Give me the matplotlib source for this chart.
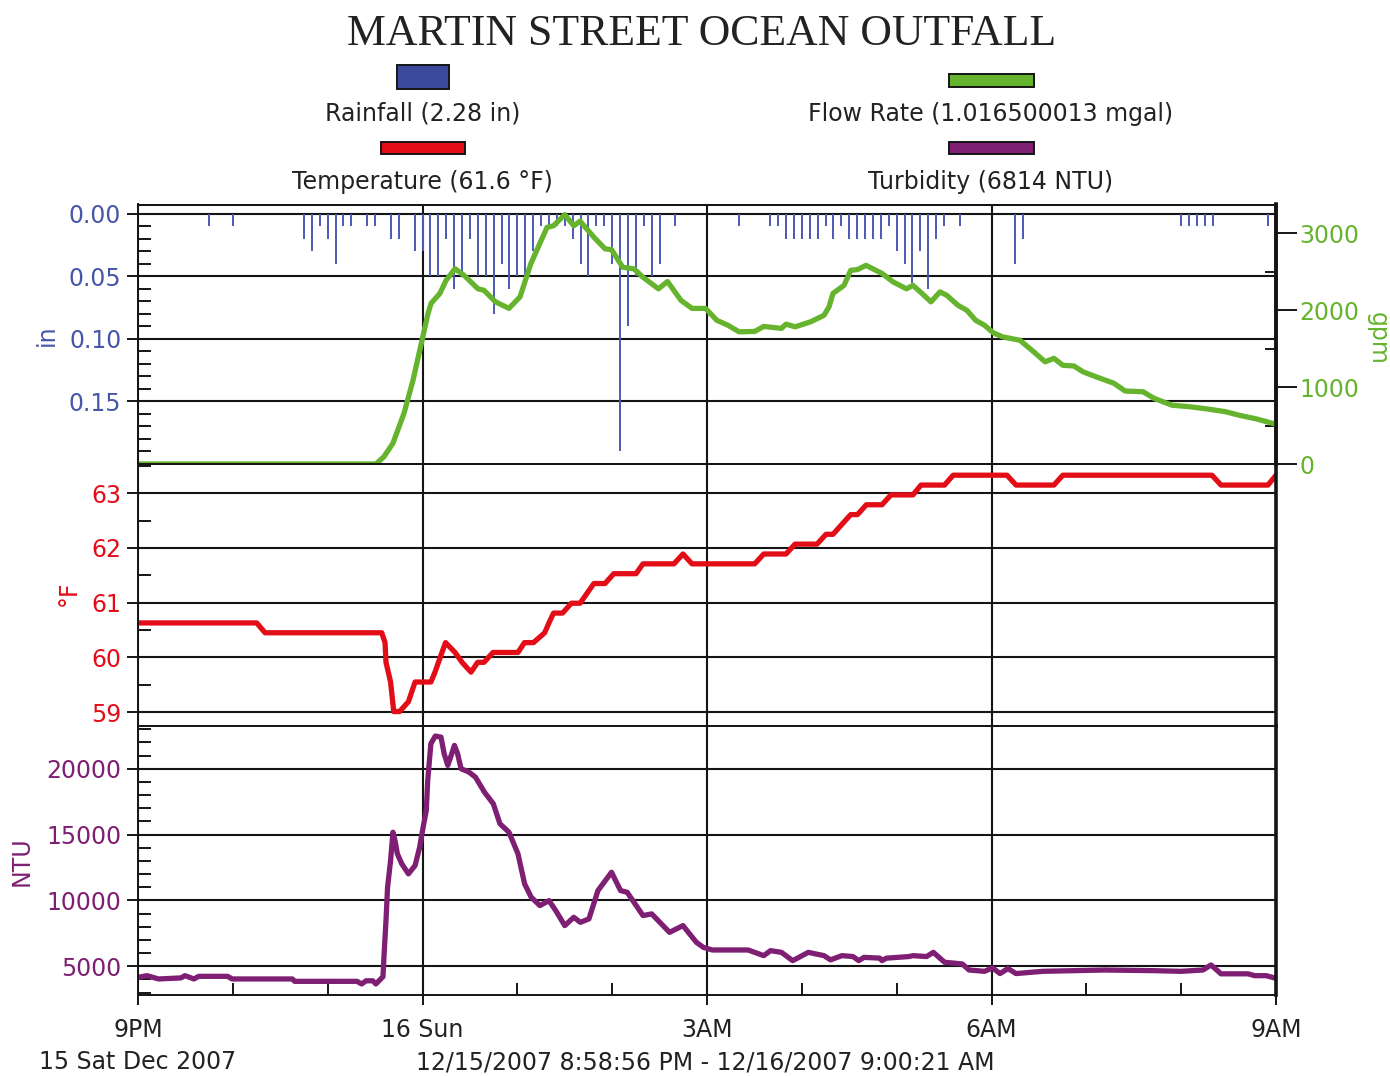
import matplotlib
matplotlib.use("Agg")
import matplotlib.pyplot as plt
from matplotlib.patches import Rectangle
from matplotlib.ticker import FixedLocator

plt.rcParams['font.family'] = ['DejaVu Sans']

# ---------------- data (time in minutes after 9 PM, 15 Dec 2007) ----------------
rain_min = [45, 60, 105, 110, 115, 120, 125, 130, 135, 145, 150, 160, 165, 175, 180,
            185, 190, 195, 200, 205, 210, 215, 220, 225, 230, 235, 240, 245, 250, 255,
            260, 265, 270, 275, 280, 285, 290, 295, 300, 305, 310, 315, 320, 325, 330,
            340, 380, 400, 405, 410, 415, 420, 425, 430, 435, 440, 445, 450, 455, 460,
            465, 470, 475, 480, 485, 490, 495, 500, 505, 510, 520, 555, 560, 660, 665,
            670, 675, 680, 715]
rain_in = [0.01, 0.01, 0.02, 0.03, 0.01, 0.02, 0.04, 0.01, 0.01, 0.01, 0.01, 0.02, 0.02, 0.03, 0.03,
           0.05, 0.05, 0.02, 0.06, 0.05, 0.02, 0.05, 0.05, 0.08, 0.04, 0.06, 0.05, 0.05, 0.03, 0.01,
           0.01, 0.01, 0.01, 0.02, 0.04, 0.05, 0.01, 0.01, 0.04, 0.19, 0.09, 0.05, 0.01, 0.05, 0.04,
           0.01, 0.01, 0.01, 0.01, 0.02, 0.02, 0.02, 0.02, 0.02, 0.01, 0.02, 0.01, 0.02, 0.02, 0.02,
           0.02, 0.02, 0.01, 0.03, 0.04, 0.055, 0.03, 0.06, 0.02, 0.01, 0.01, 0.04, 0.02, 0.01, 0.01,
           0.01, 0.01, 0.01, 0.01]

flow_min = [0, 150.6, 155.6, 161.3, 168.3, 174, 179.7, 183.5, 185.4, 191, 194.9, 200.6, 206.3,
            215.1, 218.9, 226.2, 234.7, 241.7, 248.6, 258.8, 262.9, 270, 275.7, 279.7, 288.5,
            295.5, 299.6, 306.7, 313.8, 319.5, 329.3, 335, 343.5, 350.5, 359.1, 366.2, 373.3,
            380.3, 390.2, 395.9, 407.1, 410, 415.7, 425.5, 434, 437.2, 439.7, 446.7, 450.9,
            455.2, 460.6, 470.7, 477.7, 486.2, 490.3, 496, 501.7, 507.4, 511.7, 518.8, 524.4,
            530, 535.6, 541.3, 547, 558, 566.7, 573.9, 579.5, 585.1, 592.2, 597.9, 606.1,
            617.5, 624.5, 635.9, 642.8, 654.2, 665.6, 677, 688.2, 696.6, 708, 719.4]
flow_gpm = [0, 0, 95, 270, 660, 1090, 1610, 1960, 2090, 2220, 2390, 2540, 2455,
            2280, 2260, 2110, 2025, 2175, 2610, 3080, 3100, 3245, 3100, 3160, 2950,
            2800, 2790, 2560, 2540, 2430, 2280, 2375, 2130, 2025, 2025, 1870, 1805,
            1720, 1725, 1790, 1765, 1820, 1785, 1850, 1935, 2045, 2220, 2325, 2520,
            2530, 2585, 2480, 2370, 2280, 2325, 2220, 2110, 2240, 2195, 2065, 2000,
            1870, 1805, 1705, 1655, 1610, 1460, 1330, 1375, 1285, 1275, 1200, 1135,
            1050, 950, 940, 855, 765, 745, 715, 680, 635, 585, 520]

temp_min = [0, 75.1, 80.4, 154.2, 156.3, 156.9, 159.8, 161.8, 165.5, 171.1, 175.3, 185.3,
            187.9, 192.3, 194.6, 200.6, 205, 210.7, 214.9, 218.9, 224.6, 240.4, 244.5,
            250.2, 257.3, 260, 262.9, 268.6, 274.2, 279.7, 288.4, 295.5, 301, 315.1,
            319.5, 339.1, 344.8, 350.5, 390.2, 395.9, 410, 415.7, 429.6, 435.3, 439.7,
            450.9, 455.2, 460.8, 470.7, 476.4, 490.3, 495.4, 510.3, 515.7, 549.8, 555.5,
            579.5, 585.1, 679.5, 685.2, 714.9, 720]
temp_f = [60.63, 60.63, 60.45, 60.45, 60.27, 59.91, 59.55, 59.01, 59.01, 59.19, 59.55, 59.55,
          59.73, 60.09, 60.27, 60.09, 59.91, 59.73, 59.91, 59.91, 60.09, 60.09, 60.27,
          60.27, 60.45, 60.63, 60.81, 60.81, 60.99, 60.99, 61.35, 61.35, 61.53, 61.53,
          61.71, 61.71, 61.89, 61.71, 61.71, 61.89, 61.89, 62.07, 62.07, 62.25, 62.25,
          62.61, 62.61, 62.79, 62.79, 62.97, 62.97, 63.15, 63.15, 63.33, 63.33, 63.15,
          63.15, 63.33, 63.33, 63.15, 63.15, 63.33]

ntu_min = [0.25, 5.7, 13, 27.1, 29.7, 35.4, 38.4, 56.7, 59.5, 97.7, 99.1, 138.6, 141.5, 144.3,
           148.6, 150.5, 155, 155.6, 156.9, 157.9, 159.8, 161.3, 162.6, 164.1, 166.9, 171.1,
           175.3, 178.2, 180.4, 182.4, 183.3, 185.3, 188.1, 191.7, 193.7, 196, 198.5, 200.2,
           202.2, 204.4, 209.3, 213.5, 219.2, 224.8, 229, 234.7, 240.4, 244.6, 248.8, 254.3,
           260, 264.3, 270, 275.7, 279.9, 285.3, 291, 299.6, 305.3, 309.5, 319.5, 325, 336.3,
           344.8, 353.3, 357.7, 363.4, 386, 395.9, 400.2, 407.1, 414.2, 424.1, 434, 438.2,
           445.3, 452.4, 456, 459.3, 469.3, 470.7, 473.5, 487.7, 490.3, 498.9, 503.2, 510.3,
           521.5, 525.8, 535.6, 540.7, 545.4, 550.4, 555.5, 572.4, 611.8, 642.8, 659.9, 673.8,
           678.9, 685.2, 702.3, 706.5, 713.7, 719.4]
ntu_val = [4165, 4290, 4040, 4120, 4290, 4040, 4240, 4240, 4040, 4040, 3860, 3860, 3660, 3900,
           3900, 3660, 4215, 5690, 8470, 11000, 13030, 15180, 14550, 13540, 12780, 12020,
           12650, 14040, 15560, 16830, 19110, 21900, 22480, 22400, 21140, 20250, 21140, 21770,
           21140, 20000, 19750, 19360, 18220, 17340, 15820, 15180, 13540, 11260, 10240, 9610,
           9990, 9230, 8090, 8720, 8340, 8600, 10750, 12140, 10750, 10620, 8850, 8980, 7580,
           8090, 6820, 6440, 6240, 6240, 5810, 6190, 6060, 5430, 6060, 5810, 5490,
           5810, 5740, 5430, 5680, 5620, 5430, 5620, 5740, 5810, 5740, 6060, 5310,
           5180, 4720, 4620, 4880, 4450, 4830, 4450, 4620, 4720, 4670, 4620, 4720,
           5100, 4430, 4430, 4290, 4290, 4110]

x_ticks = [0, 180, 360, 540, 720]
x_labels = ["9PM", "16 Sun", "3AM", "6AM", "9AM"]
rain_ticks = [0.00, 0.05, 0.10, 0.15]
flow_ticks = [0, 1000, 2000, 3000]
temp_ticks = [59, 60, 61, 62, 63]
ntu_ticks = [5000, 10000, 15000, 20000]

title = "MARTIN STREET OCEAN OUTFALL"
legend_labels = ["Rainfall (2.28 in)", "Flow Rate (1.016500013 mgal)",
                 "Temperature (61.6 °F)", "Turbidity (6814 NTU)"]

# ---------------- style ----------------
BLUE = "#4656a8"
BAR = "#4b5bb8"
GREEN = "#66b42e"
RED = "#e20d17"
PURPLE = "#7e1f74"
INK = "#151515"
TXT = "#222222"
FS = 17

W, H = 1390, 1076
fig = plt.figure(figsize=(W / 100, H / 100), dpi=100)
fig.patch.set_facecolor("white")


def fx(x):
    return x / W


def fy(y):
    return 1 - y / H


L, R = 138, 1276


def add_axes(top, bottom):
    return fig.add_axes([fx(L), fy(bottom), (R - L) / W, (bottom - top) / H])


ax_rain = add_axes(204.5, 464)
ax_temp = add_axes(464, 725.5)
ax_ntu = add_axes(725.5, 995.3)
ax_flow = ax_rain.twinx()

for ax in (ax_rain, ax_temp, ax_ntu, ax_flow):
    ax.set_xlim(0, 720)
    for side, sp in ax.spines.items():
        sp.set_color(INK)
        sp.set_linewidth(1.4)
    ax.spines['right'].set_linewidth(2.6)

# grids
for ax in (ax_rain, ax_temp, ax_ntu):
    ax.set_axisbelow(True)
    ax.xaxis.set_major_locator(FixedLocator(x_ticks))
    ax.grid(True, which='major', color=INK, linewidth=1.5)

# rain axis (inverted)
ax_rain.vlines(rain_min, 0, rain_in, color=BAR, linewidth=1.4)
ax_rain.set_ylim(0.2, -0.0075)
ax_rain.yaxis.set_major_locator(FixedLocator(rain_ticks))
ax_rain.yaxis.set_minor_locator(FixedLocator([i / 100 for i in range(0, 21)]))
ax_rain.set_yticklabels(["%.2f" % v for v in rain_ticks])

# flow
ax_flow.plot(flow_min, flow_gpm, color=GREEN, linewidth=3.8, solid_joinstyle='round')
ax_flow.set_ylim(0, 3377)
ax_flow.yaxis.set_major_locator(FixedLocator(flow_ticks))
ax_flow.yaxis.set_minor_locator(FixedLocator([500, 1500, 2500]))
ax_flow.set_yticklabels([str(v) for v in flow_ticks])

# temperature
ax_temp.plot(temp_min, temp_f, color=RED, linewidth=3.8, solid_joinstyle='round')
ax_temp.set_ylim(58.755, 63.535)
ax_temp.yaxis.set_major_locator(FixedLocator(temp_ticks))
ax_temp.yaxis.set_minor_locator(FixedLocator([58.5 + 0.5 * i for i in range(11)]))
ax_temp.set_yticklabels([str(v) for v in temp_ticks])

# turbidity
ax_ntu.plot(ntu_min, ntu_val, color=PURPLE, linewidth=3.8, solid_joinstyle='round')
ax_ntu.set_ylim(2800, 23280)
ax_ntu.yaxis.set_major_locator(FixedLocator(ntu_ticks))
ax_ntu.yaxis.set_minor_locator(FixedLocator(list(range(3000, 24000, 1000))))
ax_ntu.set_yticklabels([str(v) for v in ntu_ticks])

# tick styling
for ax, col in ((ax_rain, BLUE), (ax_temp, RED), (ax_ntu, PURPLE)):
    ax.tick_params(axis='y', which='major', direction='out', length=8, width=1.4,
                   color=INK, pad=4, labelsize=FS, labelcolor=col, left=True, right=False)
    ax.tick_params(axis='y', which='minor', direction='in', length=9, width=1.4,
                   color=INK, left=True, right=False)
ax_flow.tick_params(axis='y', which='major', direction='out', length=15, width=1.4,
                    color=INK, pad=2, labelsize=FS, labelcolor=GREEN)
ax_flow.tick_params(axis='y', which='minor', direction='in', length=8, width=1.4, color=INK)

for ax in (ax_rain, ax_temp, ax_flow):
    ax.tick_params(axis='x', which='both', length=0, labelbottom=False, labeltop=False)

ax_ntu.xaxis.set_minor_locator(FixedLocator(list(range(60, 720, 60))))
ax_ntu.set_xticks(x_ticks, labels=x_labels)
ax_ntu.tick_params(axis='x', which='major', direction='out', length=7.5, width=1.4,
                   color=INK, pad=9, labelsize=FS, labelcolor=TXT)
ax_ntu.tick_params(axis='x', which='minor', direction='in', length=9, width=1.4, color=INK)

# axis unit labels
fig.text(fx(47), fy(335), "in", rotation=90, ha='center', va='center', color=BLUE, fontsize=FS)
fig.text(fx(69), fy(593), "°F", rotation=90, ha='center', va='center', color=RED, fontsize=FS)
fig.text(fx(22), fy(861), "NTU", rotation=90, ha='center', va='center', color=PURPLE, fontsize=FS)
fig.text(fx(1378), fy(338), "gpm", rotation=270, ha='center', va='center', color=GREEN, fontsize=FS)

# bottom date texts
fig.text(fx(138), fy(1062), "15 Sat Dec 2007", ha='center', va='center', color=TXT, fontsize=FS)
fig.text(fx(705), fy(1062), "12/15/2007 8:58:56 PM - 12/16/2007 9:00:21 AM",
         ha='center', va='center', color=TXT, fontsize=FS)

# title
fig.text(fx(702), fy(45), title, ha='center', va='baseline', color=TXT,
         fontsize=31.5, family=['Liberation Serif', 'DejaVu Serif'])

# legend
legend_items = [
    (legend_labels[0], BLUE, (397, 65, 449, 89), (423, 121)),
    (legend_labels[1], GREEN, (949, 74, 1034, 87), (991, 121)),
    (legend_labels[2], RED, (381, 142, 465, 154), (422, 189)),
    (legend_labels[3], PURPLE, (949, 142, 1034, 154), (991, 189)),
]
patch_colors = {BLUE: "#3b4a9b"}
for label, col, (x0, y0, x1, y1), (tx, ty) in legend_items:
    fig.add_artist(Rectangle((fx(x0), fy(y1)), (x1 - x0) / W, (y1 - y0) / H,
                             transform=fig.transFigure, facecolor=patch_colors.get(col, col),
                             edgecolor=INK, linewidth=1.4))
    fig.text(fx(tx), fy(ty), label, ha='center', va='baseline', color=TXT, fontsize=FS)

fig.savefig("out.png", dpi=100)
